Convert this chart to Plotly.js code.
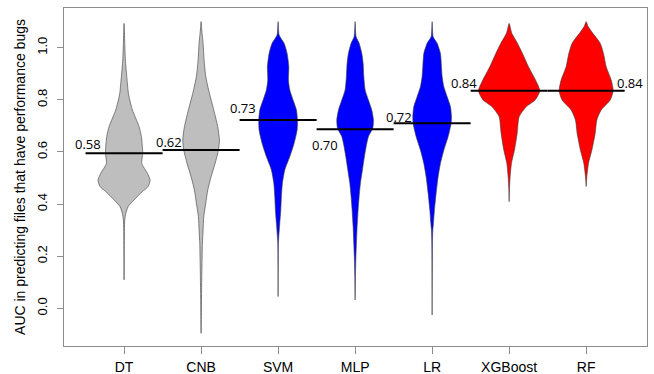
<!DOCTYPE html>
<html>
<head>
<meta charset="utf-8">
<script src="https://cdn.plot.ly/plotly-3.0.1.min.js"></script>
<style>html,body{margin:0;padding:0;background:#fff;}#chart{width:654px;height:374px;}</style>
</head>
<body>
<div id="chart"></div>
<script>
// ---- data ----
const categories = ["DT", "CNB", "SVM", "MLP", "LR", "XGBoost", "RF"];
const groupColors = ["#BEBEBE", "#BEBEBE", "#0000FF", "#0000FF", "#0000FF", "#FF0000", "#FF0000"];

// density profiles: AUC levels (top to bottom) and bean half-widths at those levels
const dtAuc  = [1.093, 1.017, 0.953, 0.889, 0.825, 0.799, 0.761, 0.697, 0.659, 0.595, 0.556, 0.518, 0.492, 0.467, 0.448, 0.416, 0.390, 0.364, 0.339, 0.300, 0.109];
const dtDen  = [0, 0.009, 0.017, 0.035, 0.056, 0.074, 0.108, 0.195, 0.225, 0.242, 0.229, 0.303, 0.338, 0.312, 0.238, 0.130, 0.052, 0.022, 0.009, 0.004, 0];

const cnbAuc = [1.100, 1.068, 1.017, 0.953, 0.889, 0.825, 0.761, 0.697, 0.646, 0.607, 0.556, 0.505, 0.454, 0.403, 0.352, 0.300, 0.249, 0.185, 0.121, 0.057, -0.007, -0.096];
const cnbDen = [0, 0.009, 0.026, 0.039, 0.061, 0.108, 0.165, 0.216, 0.238, 0.225, 0.182, 0.130, 0.087, 0.061, 0.035, 0.026, 0.017, 0.013, 0.009, 0.006, 0.004, 0];

const svmAuc = [1.100, 1.049, 1.017, 0.978, 0.927, 0.876, 0.838, 0.799, 0.761, 0.723, 0.684, 0.633, 0.582, 0.531, 0.480, 0.428, 0.377, 0.326, 0.275, 0.249, 0.045];
const svmDen = [0, 0.013, 0.078, 0.117, 0.139, 0.134, 0.152, 0.195, 0.238, 0.251, 0.247, 0.208, 0.152, 0.087, 0.056, 0.043, 0.035, 0.022, 0.009, 0.004, 0];

const mlpAuc = [1.100, 1.042, 1.017, 0.978, 0.940, 0.889, 0.838, 0.799, 0.761, 0.723, 0.691, 0.659, 0.620, 0.582, 0.531, 0.480, 0.428, 0.377, 0.313, 0.249, 0.185, 0.121, 0.032];
const mlpDen = [0, 0.013, 0.052, 0.087, 0.104, 0.113, 0.130, 0.173, 0.216, 0.238, 0.229, 0.173, 0.143, 0.121, 0.095, 0.069, 0.052, 0.039, 0.026, 0.017, 0.009, 0.004, 0];

const lrAuc  = [1.100, 1.042, 1.017, 0.978, 0.927, 0.889, 0.850, 0.812, 0.774, 0.735, 0.710, 0.659, 0.607, 0.556, 0.505, 0.441, 0.377, 0.326, 0.300, 0.249, -0.026];
const lrDen  = [0, 0.013, 0.065, 0.108, 0.121, 0.130, 0.152, 0.195, 0.238, 0.251, 0.247, 0.208, 0.152, 0.108, 0.078, 0.052, 0.030, 0.017, 0.009, 0.004, 0];

const xgbAuc = [1.093, 1.055, 1.017, 0.978, 0.927, 0.876, 0.835, 0.799, 0.774, 0.735, 0.671, 0.607, 0.556, 0.505, 0.454, 0.409];
const xgbDen = [0, 0.035, 0.108, 0.173, 0.251, 0.342, 0.398, 0.338, 0.225, 0.130, 0.104, 0.069, 0.030, 0.013, 0.004, 0];

const rfAuc  = [1.100, 1.081, 1.055, 1.017, 0.978, 0.927, 0.876, 0.835, 0.799, 0.761, 0.723, 0.671, 0.607, 0.556, 0.505, 0.467];
const rfDen  = [0, 0.026, 0.087, 0.182, 0.225, 0.260, 0.325, 0.351, 0.312, 0.195, 0.139, 0.117, 0.074, 0.030, 0.009, 0];

// bean lines (median AUC) and printed labels
const medians = [0.595, 0.607, 0.723, 0.687, 0.710, 0.835, 0.835];
const medianLabels = ["0.58", "0.62", "0.73", "0.70", "0.72", "0.84", "0.84"];

const yTickVals = [0, 0.2, 0.4, 0.6, 0.8, 1.0];
const yTickText = ["0.0", "0.2", "0.4", "0.6", "0.8", "1.0"];

// ---- layout-only settings (positions of the printed labels relative to each bean) ----
const labelDx = [-0.47, -0.423, -0.455, -0.396, -0.429, -0.592, 0.564];
const labelDy = [0.035, 0.030, 0.044, -0.060, 0.025, 0.028, 0.028];

const profiles = [[dtAuc, dtDen], [cnbAuc, cnbDen], [svmAuc, svmDen], [mlpAuc, mlpDen], [lrAuc, lrDen], [xgbAuc, xgbDen], [rfAuc, rfDen]];

const traces = [];
profiles.forEach(([auc, den], i) => {
  const c = i + 1;
  const xs = [], ys = [];
  for (let k = 0; k < auc.length; k++) { xs.push(c + den[k]); ys.push(auc[k]); }
  for (let k = auc.length - 1; k >= 0; k--) { xs.push(c - den[k]); ys.push(auc[k]); }
  traces.push({
    type: "scatter", mode: "lines", x: xs, y: ys,
    fill: "toself", fillcolor: groupColors[i],
    line: { color: "#3a3a3a", width: 0.6, shape: "spline", smoothing: 0.6 },
    hoverinfo: "skip", showlegend: false
  });
});
medians.forEach((m, i) => {
  const c = i + 1;
  traces.push({
    type: "scatter", mode: "lines", x: [c - 0.5, c + 0.5], y: [m, m],
    line: { color: "#000000", width: 2 }, hoverinfo: "skip", showlegend: false
  });
});

const annotations = medianLabels.map((t, i) => ({
  x: i + 1 + labelDx[i], y: medians[i] + labelDy[i], xref: "x", yref: "y",
  text: t, showarrow: false, xanchor: "center", yanchor: "middle",
  font: { family: "Open Sans, sans-serif", size: 13, color: "#000" }
}));

const layout = {
  width: 654, height: 374,
  margin: { l: 64, r: 7, t: 8, b: 28 },
  paper_bgcolor: "#ffffff", plot_bgcolor: "#ffffff",
  showlegend: false,
  font: { family: "Liberation Sans, Arial, sans-serif", color: "#000" },
  xaxis: {
    range: [0.22, 7.79], tickvals: [1, 2, 3, 4, 5, 6, 7], ticktext: categories,
    showgrid: false, zeroline: false, showline: true, mirror: true,
    linecolor: "#8c8c8c", linewidth: 1,
    ticks: "outside", ticklen: 7, tickcolor: "#8c8c8c",
    tickfont: { size: 14, family: "Liberation Sans, Arial, sans-serif" },
    ticklabelstandoff: 1
  },
  yaxis: {
    range: [-0.1447, 1.1523], tickvals: yTickVals, ticktext: yTickText,
    showgrid: false, zeroline: false, showline: true, mirror: true,
    linecolor: "#8c8c8c", linewidth: 1,
    ticks: "outside", ticklen: 6, tickcolor: "#8c8c8c", tickangle: -90,
    tickfont: { size: 13, family: "Liberation Sans, Arial, sans-serif" },
    ticklabelstandoff: 5,
    title: { text: "AUC in predicting files that have performance bugs", standoff: 5,
             font: { size: 14, family: "Liberation Sans, Arial, sans-serif" } }
  },
  annotations: annotations
};

Plotly.newPlot("chart", traces, layout, { staticPlot: true, displayModeBar: false });
</script>
</body>
</html>
